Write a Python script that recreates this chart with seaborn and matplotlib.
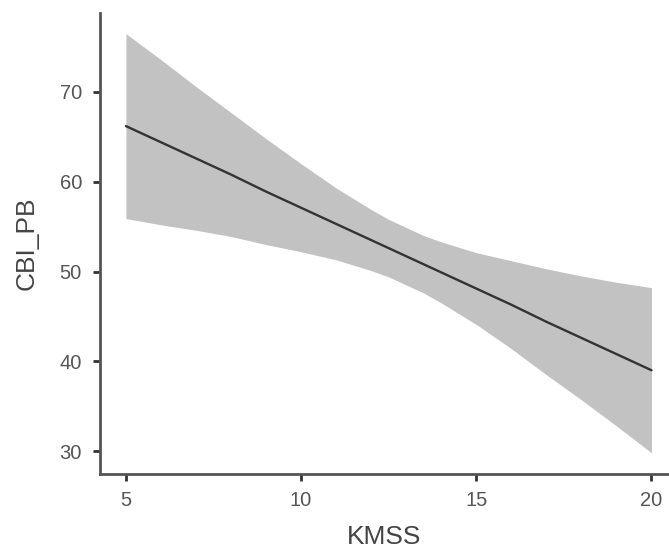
import numpy as np
import pandas as pd
import matplotlib
matplotlib.use("Agg")
import matplotlib.pyplot as plt
import seaborn as sns

# Values
kmss = [5, 6, 7, 8, 9, 10, 11, 12, 12.5, 13, 13.5, 14, 15, 16, 17, 18, 19, 20]
cbi_fit = [66.2, 64.4, 62.6, 60.8, 58.9, 57.1, 55.3, 53.5, 52.6, 51.7, 50.8, 49.9, 48.1, 46.3, 44.4, 42.6, 40.8, 39.0]
cbi_lower = [55.9, 55.2, 54.6, 53.9, 53.0, 52.2, 51.3, 50.1, 49.4, 48.5, 47.6, 46.5, 44.1, 41.4, 38.5, 35.7, 32.8, 29.8]
cbi_upper = [76.5, 73.6, 70.6, 67.7, 64.8, 62.0, 59.3, 56.9, 55.8, 54.9, 54.0, 53.3, 52.1, 51.2, 50.3, 49.5, 48.8, 48.2]
x_ticks = [5, 10, 15, 20]
y_ticks = [30, 40, 50, 60, 70]

df = pd.DataFrame({"KMSS": kmss, "CBI_PB": cbi_fit, "lo": cbi_lower, "hi": cbi_upper})

sns.set_theme(style="ticks")
plt.rcParams["font.family"] = ["Liberation Sans", "DejaVu Sans"]

fig = plt.figure(figsize=(6.69, 5.51), dpi=100)
ax = fig.add_axes([100 / 669, 1 - 474 / 551, 1 - 100 / 669, (474 - 13) / 551])

ax.fill_between(df["KMSS"], df["lo"], df["hi"], color="#c2c2c2", linewidth=0, zorder=1)
sns.lineplot(data=df, x="KMSS", y="CBI_PB", ax=ax, color="#333333", linewidth=1.7, zorder=2)

ax.set_xlim(4.26, 20.5)
ax.set_ylim(27.44, 78.8)
ax.set_xticks(x_ticks)
ax.set_yticks(y_ticks)

for side in ["top", "right"]:
    ax.spines[side].set_visible(False)
for side in ["left", "bottom"]:
    ax.spines[side].set_color("#555555")
    ax.spines[side].set_linewidth(2.0)

ax.tick_params(axis="both", colors="#333333", labelcolor="#555555", labelsize=14.5,
               length=5, width=2.0, direction="out")
ax.tick_params(axis="y", pad=8)
ax.tick_params(axis="x", pad=7)

ax.set_xlabel("KMSS", fontsize=19, color="#444444", labelpad=11)
ax.set_ylabel("CBI_PB", fontsize=19, color="#444444", labelpad=15)

fig.savefig("out.png", dpi=100, facecolor="white")
